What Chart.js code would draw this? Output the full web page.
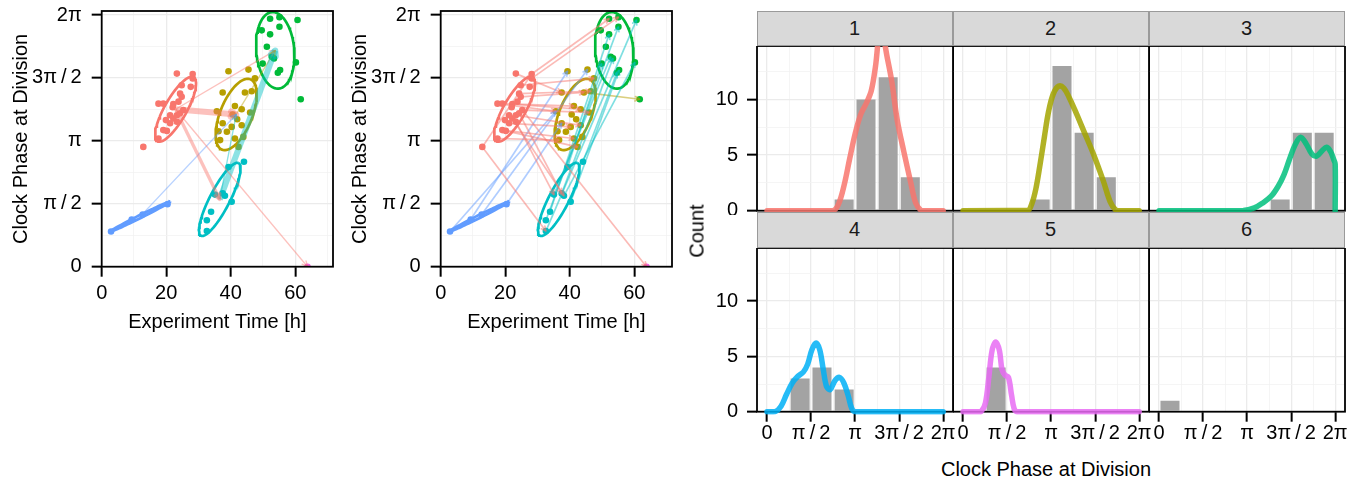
<!DOCTYPE html>
<html>
<head>
<meta charset="utf-8">
<script src="https://cdn.jsdelivr.net/npm/chart.js@4.4.1/dist/chart.umd.min.js"></script>
<style>
  body { margin: 0; background: #fff; }
  #fig { position: relative; width: 1362px; height: 486px; overflow: hidden; font-family: "Liberation Sans", Arial, sans-serif; }
  #fig canvas { position: absolute; }
  .strip { position: absolute; box-sizing: border-box; background: #D9D9D9; border: 1.5px solid #9a9a9a; text-align: center; font-size: 20px; color: #1a1a1a; }
  .lbl { position: absolute; font-size: 20px; color: #000; white-space: nowrap; transform: translate(-50%, -50%); }
</style>
</head>
<body>
<div id="fig"></div>
<script>
var PI = Math.PI;

// cluster colours (scatter panels) and facet density colours
var clusterColours = ['#F8766D', '#B79F00', '#00BA38', '#00BFC4', '#619CFF', '#F564E3'];
var densColours = ['#F8766D', '#A3A500', '#00BF7D', '#00B0F6', '#E76BF3'];

// divisions: experiment time [h], clock phase at division [rad], cluster
var divTime = [12.9, 17.6, 19.1, 20.2, 21.2, 23.3, 19.9, 22.2, 21.2, 23.3, 24.3, 25.3, 17.6, 19.1, 22.2, 24.8, 24.3, 24.8, 27.6, 28.2, 23.3, 28.2, 22.0, 23.8,
  39.3, 45.5, 47.5, 37.5, 44.4, 46.5, 35.7, 41.3, 43.4, 46.0, 40.6, 37.5, 40.3, 43.4, 36.2, 38.8, 43.9, 36.7, 41.3, 42.4, 42.0,
  52.2, 55.1, 60.7, 49.6, 55.1, 52.2, 51.2, 52.7, 53.4, 49.9, 60.2, 55.3, 54.6, 61.7,
  44.1, 39.3, 35.1, 37.5, 38.2, 40.3, 33.9, 32.6, 32.6,
  2.9, 9.3, 12.7, 20.4,
  63.8];
var divPhase = [2.99, 3.20, 3.41, 3.39, 3.58, 3.62, 3.66, 3.70, 3.78, 3.78, 3.83, 3.91, 4.07, 4.07, 4.06, 4.24, 4.32, 4.53, 4.49, 4.70, 4.82, 4.81, 3.98, 4.12,
  4.88, 4.92, 4.70, 4.35, 4.35, 4.38, 3.88, 4.01, 3.93, 3.85, 3.80, 3.58, 3.49, 3.53, 3.38, 3.37, 3.24, 3.16, 3.20, 2.99, 3.68,
  6.19, 6.23, 6.16, 5.90, 5.99, 5.80, 5.49, 5.24, 5.20, 5.07, 5.10, 4.91, 4.84, 4.18,
  2.62, 2.49, 1.80, 1.83, 1.77, 1.62, 1.37, 1.16, 0.89,
  0.88, 1.18, 1.30, 1.56,
  0.0];
var divCluster = [1, 1, 1, 1, 1, 1, 1, 1, 1, 1, 1, 1, 1, 1, 1, 1, 1, 1, 1, 1, 1, 1, 1, 1,
  2, 2, 2, 2, 2, 2, 2, 2, 2, 2, 2, 2, 2, 2, 2, 2, 2, 2, 2, 2, 2,
  3, 3, 3, 3, 3, 3, 3, 3, 3, 3, 3, 3, 3, 3,
  4, 4, 4, 4, 4, 4, 4, 4, 4,
  5, 5, 5, 5,
  6];

// cluster centres (also the ends of the transition arrows)
var centreTime = [22.9, 41.7, 53.8, 36.6, 11.9, 63.8];
var centrePhase = [3.93, 3.80, 5.40, 1.68, 1.25, 0.0];
// ellipse conjugate semi-axes (data units), clusters 1-5
var ellAx = [5.61, 4.41, -1.04, 5.83, 9.3];
var ellAy = [0.80, 0.878, 0.955, 0.907, 0.375];
var ellBx = [2.97, 4.6, 5.87, 2.75, 0.21];
var ellBy = [-0.135, -0.15, 0.041, -0.114, -0.033];

// transitions between clusters (left panel)
var flowFrom = [1, 1, 1, 1, 4, 4, 5, 2];
var flowTo = [2, 4, 3, 6, 3, 2, 2, 3];
var flowCount = [8, 4, 1, 1, 8, 1, 1, 1];

// mother -> daughter divisions (middle panel), indices into divTime
var mother = [0, 0, 21, 19, 16, 17, 15, 14, 11, 9, 4, 2, 1, 3, 12, 13, 10, 7, 5, 11, 69, 70, 71, 68, 67, 66, 65, 61, 62, 63, 64, 60, 59, 28, 20];
var daughter = [21, 67, 45, 46, 29, 26, 28, 32, 33, 37, 36, 42, 41, 43, 30, 31, 62, 63, 61, 72, 24, 25, 35, 30, 47, 49, 50, 52, 53, 55, 56, 54, 57, 58, 27];

// histogram facets
var facetNames = ['1', '2', '3', '4', '5', '6'];
var binCentres = [0.39, 1.18, 1.96, 2.75, 3.53, 4.32, 5.11, 5.89];
var counts1 = [0, 0, 0, 1, 10, 12, 3, 0];
var counts2 = [0, 0, 0, 1, 13, 7, 3, 0];
var counts3 = [0, 0, 0, 0, 0, 1, 7, 7];
var counts4 = [0, 3, 4, 2, 0, 0, 0, 0];
var counts5 = [0, 4, 0, 0, 0, 0, 0, 0];
var counts6 = [1, 0, 0, 0, 0, 0, 0, 0];

// density curves, scaled to counts
var dens1X = [0, 2.35, 2.55, 2.75, 2.95, 3.15, 3.35, 3.55, 3.72, 3.87, 4.05, 4.30, 4.45, 4.64, 4.88, 5.12, 5.30, 5.48, 5.65, 6.283];
var dens1Y = [0, 0.02, 0.6, 2.3, 4.7, 7.0, 8.7, 9.7, 10.8, 13.0, 16.5, 13.6, 11.6, 8.2, 5.3, 2.6, 0.7, 0.05, 0, 0];
var dens2X = [0, 2.30, 2.45, 2.60, 2.75, 2.90, 3.05, 3.22, 3.42, 3.60, 3.78, 3.98, 4.30, 4.65, 5.00, 5.25, 5.45, 5.60, 6.283];
var dens2Y = [0, 0.02, 0.6, 2.0, 4.2, 6.6, 8.9, 10.5, 11.2, 11.0, 10.2, 9.1, 7.2, 5.1, 2.7, 0.8, 0.05, 0, 0];
var dens3X = [0, 3.00, 3.40, 3.70, 4.00, 4.25, 4.45, 4.65, 4.85, 5.05, 5.25, 5.45, 5.62, 5.82, 5.98, 6.12, 6.23, 6.283, 6.283];
var dens3Y = [0, 0.02, 0.25, 0.7, 1.3, 2.2, 3.2, 4.6, 5.9, 6.6, 6.0, 5.1, 4.9, 5.4, 5.7, 5.3, 4.6, 4.2, 0];
var dens4X = [0, 0.30, 0.50, 0.70, 0.90, 1.10, 1.30, 1.45, 1.60, 1.75, 1.88, 2.00, 2.12, 2.25, 2.42, 2.58, 2.74, 2.90, 3.02, 3.15, 6.283];
var dens4Y = [0, 0.02, 0.5, 1.6, 2.6, 3.2, 3.6, 4.3, 5.6, 6.2, 5.6, 3.9, 2.3, 2.0, 2.8, 3.1, 2.6, 1.4, 0.3, 0, 0];
var dens5X = [0, 0.50, 0.65, 0.80, 0.92, 1.04, 1.17, 1.30, 1.39, 1.50, 1.62, 1.73, 1.82, 1.92, 6.283];
var dens5Y = [0, 0, 0.02, 0.8, 3.1, 5.6, 6.3, 5.5, 3.8, 3.3, 3.1, 1.5, 0.3, 0, 0];

// tick marks
var timeTicks = [0, 10, 20, 30, 40, 50, 60, 70];
var timeLabels = ['0', '', '20', '', '40', '', '60', ''];
var phaseTicks = [0, PI / 4, PI / 2, 3 * PI / 4, PI, 5 * PI / 4, 3 * PI / 2, 7 * PI / 4, 2 * PI];
var phaseLabels = ['0', '', 'π\u2009/\u20092', '', 'π', '', '3π\u2009/\u20092', '', '2π'];
var countTicks = [0, 2.5, 5, 7.5, 10, 12.5];
var countLabels = ['0', '', '5', '', '10', ''];

Chart.defaults.font.family = '"Liberation Sans", Arial, sans-serif';
Chart.defaults.color = '#000';

function rgba(hex, a) {
  var n = parseInt(hex.slice(1), 16);
  return 'rgba(' + (n >> 16) + ',' + ((n >> 8) & 255) + ',' + (n & 255) + ',' + a + ')';
}

var fig = document.getElementById('fig');
function addCanvas(left, top, w, h) {
  var c = document.createElement('canvas');
  c.width = w; c.height = h;
  c.style.left = left + 'px'; c.style.top = top + 'px';
  c.style.width = w + 'px'; c.style.height = h + 'px';
  fig.appendChild(c);
  return c.getContext('2d');
}
function addLabel(cls, text, css) {
  var d = document.createElement('div');
  d.className = cls; d.textContent = text;
  for (var k in css) d.style[k] = css[k];
  fig.appendChild(d);
}

function strokeBox(chart) {
  var a = chart.chartArea, ctx = chart.ctx;
  ctx.save();
  ctx.strokeStyle = '#000'; ctx.lineWidth = 1.8;
  ctx.strokeRect(a.left, a.top, a.right - a.left, a.bottom - a.top);
  ctx.restore();
}
// black frame round the panel: on top for scatters, under the curves for facets
var panelBox = { id: 'panelBox', afterDatasetsDraw: strokeBox };
var panelBoxUnder = { id: 'panelBoxUnder', beforeDatasetsDraw: strokeBox };

// open arrow heads at the last point of datasets flagged arrowHead
var arrowHeads = {
  id: 'arrowHeads',
  afterDatasetsDraw: function (chart) {
    var ctx = chart.ctx, a = chart.chartArea;
    ctx.save();
    ctx.beginPath(); ctx.rect(a.left, a.top, a.right - a.left, a.bottom - a.top); ctx.clip();
    chart.data.datasets.forEach(function (ds, i) {
      if (!ds.arrowHead) return;
      var pts = chart.getDatasetMeta(i).data;
      var p0 = pts[0], p1 = pts[1];
      var ang = Math.atan2(p1.y - p0.y, p1.x - p0.x), L = ds.arrowHead, w = 0.45;
      ctx.strokeStyle = ds.borderColor; ctx.lineWidth = ds.borderWidth;
      ctx.lineCap = 'round'; ctx.lineJoin = 'round';
      ctx.beginPath();
      ctx.moveTo(p1.x - L * Math.cos(ang - w), p1.y - L * Math.sin(ang - w));
      ctx.lineTo(p1.x, p1.y);
      ctx.lineTo(p1.x - L * Math.cos(ang + w), p1.y - L * Math.sin(ang + w));
      ctx.stroke();
    });
    ctx.restore();
  }
};

function gridScale(ticks, labels, min, max, showLabels, showTicks, fitSize, isX, tickPad) {
  return {
    type: 'linear', min: min, max: max, offset: false, bounds: 'data',
    afterBuildTicks: function (s) { s.ticks = ticks.map(function (v) { return { value: v }; }); },
    afterFit: function (s) {
      if (isX) s.height = fitSize; else s.width = fitSize;
      s.paddingLeft = 0; s.paddingRight = 0; s.paddingTop = 0; s.paddingBottom = 0;
    },
    grid: {
      offset: false,
      color: function (c) { return labels[c.index] === '' ? '#F3F3F3' : '#EBEBEB'; },
      lineWidth: function (c) { return labels[c.index] === '' ? 0.8 : 1.3; },
      drawTicks: showTicks, tickLength: 10, tickWidth: 2,
      tickColor: function (c) { return labels[c.index] === '' ? 'rgba(0,0,0,0)' : '#000'; }
    },
    border: { display: false },
    ticks: {
      display: showLabels, autoSkip: false, maxRotation: 0, padding: tickPad,
      color: '#000', font: { size: 20 },
      callback: function (v, i) { return labels[i]; }
    }
  };
}

function ellipseData(k) {
  var pts = [];
  for (var i = 0; i <= 90; i++) {
    var t = 2 * PI * i / 90;
    pts.push({
      x: centreTime[k] + ellAx[k] * Math.cos(t) + ellBx[k] * Math.sin(t),
      y: centrePhase[k] + ellAy[k] * Math.cos(t) + ellBy[k] * Math.sin(t)
    });
  }
  return pts;
}

function arrowSet(x0, y0, x1, y1, colour, width, head) {
  return {
    type: 'scatter', showLine: true, data: [{ x: x0, y: y0 }, { x: x1, y: y1 }],
    borderColor: colour, borderWidth: width, pointRadius: 0, arrowHead: head, order: 1
  };
}

function scatterPanel(left, lineage) {
  var ctx = addCanvas(left, 0, 345, 345);
  var datasets = [];
  for (var k = 1; k <= 6; k++) {
    var pts = [];
    for (var i = 0; i < divTime.length; i++) {
      if (divCluster[i] === k) pts.push({ x: divTime[i], y: divPhase[i] });
    }
    datasets.push({ type: 'scatter', data: pts, backgroundColor: clusterColours[k - 1], borderWidth: 0, pointRadius: 3.3, order: 3 });
  }
  for (var e = 0; e < 5; e++) {
    datasets.push({ type: 'scatter', showLine: true, data: ellipseData(e), borderColor: clusterColours[e], borderWidth: 2.7, pointRadius: 0, order: 2 });
  }
  if (lineage) {
    for (var m = 0; m < mother.length; m++) {
      var a = mother[m], b = daughter[m];
      datasets.push(arrowSet(divTime[a], divPhase[a], divTime[b], divPhase[b],
        rgba(clusterColours[divCluster[a] - 1], 0.5), 1.7, 5));
    }
  } else {
    for (var f = 0; f < flowFrom.length; f++) {
      var s = flowFrom[f] - 1, t = flowTo[f] - 1;
      datasets.push(arrowSet(centreTime[s], centrePhase[s], centreTime[t], centrePhase[t],
        rgba(clusterColours[s], 0.45), 0.7 + 0.66 * flowCount[f], 6));
    }
  }
  var x = gridScale(timeTicks, timeLabels, 0, 71.7, true, true, 70, true, 5);
  x.title = { display: true, text: 'Experiment Time [h]', font: { size: 20 }, color: '#000', padding: { top: 0, bottom: 2.7 } };
  var y = gridScale(phaseTicks, phaseLabels, 0, 6.383, true, true, 101.7, false, 10);
  y.title = { display: true, text: 'Clock Phase at Division', font: { size: 20 }, color: '#000', padding: { top: 9, bottom: 0 } };
  new Chart(ctx, {
    type: 'scatter',
    data: { datasets: datasets },
    options: {
      responsive: false, animation: false, events: [],
      layout: { padding: { left: 0, top: 11, right: 12, bottom: 8.3 } },
      plugins: { legend: { display: false }, tooltip: { enabled: false } },
      scales: { x: x, y: y }
    },
    plugins: [arrowHeads, panelBox]
  });
}

scatterPanel(0, false);
scatterPanel(339, true);

// facet grid of histograms
var colLeft = [756.6, 952.6, 1148.6];
var rowTop = [46, 248];
var panelH = [164.7, 163.7];
var facetCounts = [counts1, counts2, counts3, counts4, counts5, counts6];
var facetDensX = [dens1X, dens2X, dens3X, dens4X, dens5X];
var facetDensY = [dens1Y, dens2Y, dens3Y, dens4Y, dens5Y];

for (var p = 0; p < 6; p++) {
  var col = p % 3, row = Math.floor(p / 3);
  var yW = col === 0 ? 70 : 0, xH = row === 1 ? 35 : 0;
  var cw = yW + 196 + 2, ch = Math.ceil(panelH[row] + xH + 4);
  var fctx = addCanvas(colLeft[col] - yW, rowTop[row], cw, ch);
  var bars = binCentres.map(function (c, i) { return { x: c, y: facetCounts[p][i] }; });
  var sets = [{ type: 'bar', data: bars, backgroundColor: '#A3A3A3', borderWidth: 0, barPercentage: 0.87, categoryPercentage: 1, order: 2 }];
  if (p < 5) {
    var dx = facetDensX[p], dy = facetDensY[p];
    sets.push({
      type: 'line', data: dx.map(function (v, i) { return { x: v, y: dy[i] }; }),
      borderColor: rgba(densColours[p], 0.85), borderWidth: 5.5, pointRadius: 0, tension: 0.35,
      borderCapStyle: 'round', borderJoinStyle: 'round', fill: false, order: 1,
      clip: { left: 4, top: 0, right: 4, bottom: 3 }
    });
  }
  new Chart(fctx, {
    type: 'bar',
    data: { datasets: sets },
    options: {
      responsive: false, animation: false, events: [],
      layout: { padding: { left: 0, top: 0, right: 2, bottom: ch - panelH[row] - xH } },
      plugins: { legend: { display: false }, tooltip: { enabled: false } },
      scales: {
        x: gridScale(phaseTicks, phaseLabels, -0.358, 6.633, row === 1, row === 1, xH, true, 0),
        y: gridScale(countTicks, countLabels, 0, 14.8, col === 0, col === 0, yW, false, 9)
      }
    },
    plugins: [panelBoxUnder]
  });
  addLabel('strip', facetNames[p], {
    left: colLeft[col] + 'px', top: (row === 0 ? 11 : 212) + 'px', width: '196px',
    height: (row === 0 ? 35 : 36) + 'px', lineHeight: (row === 0 ? 32 : 33) + 'px'
  });
}

addLabel('lbl', 'Count', { left: '697px', top: '231px', transform: 'translate(-50%, -50%) rotate(-90deg)' });
addLabel('lbl', 'Clock Phase at Division', { left: '1046px', top: '469px' });
</script>
</body>
</html>
